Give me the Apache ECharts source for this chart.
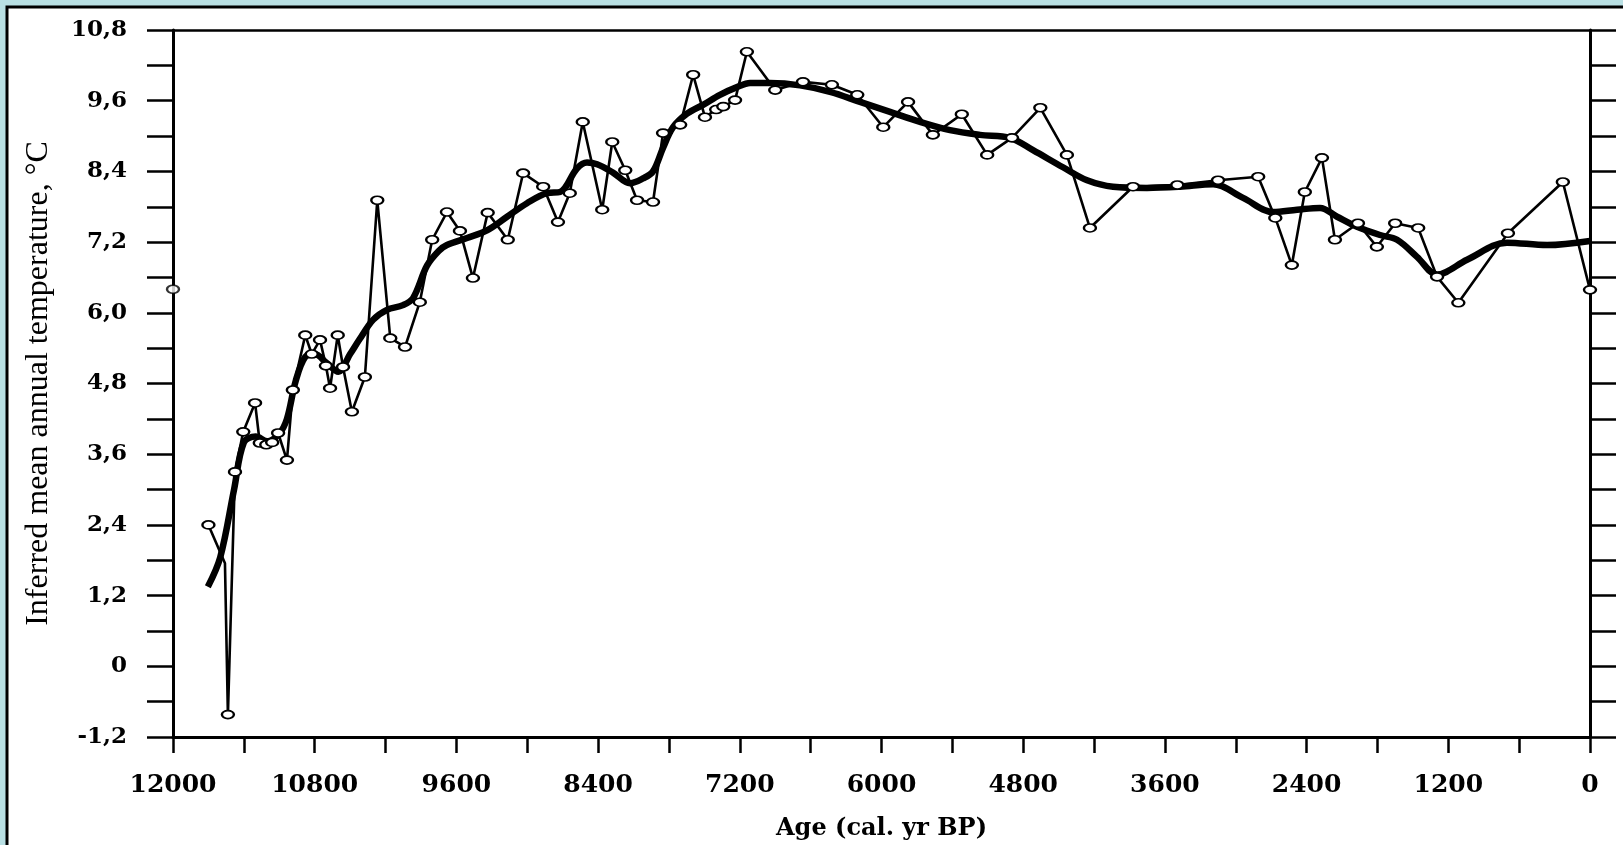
<!DOCTYPE html>
<html>
<head>
<meta charset="utf-8">
<script src="https://cdn.jsdelivr.net/npm/echarts@6/dist/echarts.min.js"></script>
<style>
  html, body { margin: 0; padding: 0; background: #b9e0e4; }
  #chart { width: 1623px; height: 845px; }
</style>
</head>
<body>
<div id="chart"></div>
<script>
// Sample ages (cal. yr BP) and inferred mean annual temperature (°C)
const sampleAges = [
  11700, 11560, 11535, 11475, 11405, 11305, 11265, 11210, 11160, 11110,
  11035, 10985, 10880, 10825, 10755, 10705, 10670, 10605, 10560, 10485,
  10375, 10270, 10160, 10035, 9910, 9805, 9680, 9570, 9460, 9335,
  9165, 9035, 8865, 8740, 8640, 8530, 8365, 8280, 8170, 8070,
  7935, 7850, 7705, 7595, 7495, 7400, 7340, 7240, 7140, 6900,
  6665, 6420, 6205, 5985, 5775, 5565, 5320, 5105, 4895, 4655,
  4430, 4235, 3870, 3495, 3150, 2810, 2665, 2525, 2415, 2270,
  2160, 1965, 1805, 1650, 1455, 1295, 1115, 695, 230, 0
];
const sampleTemps = [
  2.40, 1.75, -0.82, 3.30, 3.98, 4.47, 3.79, 3.76, 3.80, 3.96,
  3.50, 4.69, 5.62, 5.30, 5.54, 5.10, 4.72, 5.62, 5.08, 4.32,
  4.91, 7.91, 5.57, 5.42, 6.18, 7.24, 7.71, 7.39, 6.59, 7.70,
  7.24, 8.37, 8.14, 7.54, 8.03, 9.24, 7.75, 8.90, 8.42, 7.91,
  7.88, 9.05, 9.19, 10.04, 9.32, 9.45, 9.50, 9.61, 10.43, 9.78,
  9.92, 9.87, 9.70, 9.15, 9.58, 9.02, 9.37, 8.68, 8.97, 9.48,
  8.68, 7.44, 8.14, 8.17, 8.25, 8.31, 7.61, 6.81, 8.05, 8.63,
  7.24, 7.52, 7.12, 7.52, 7.44, 6.61, 6.17, 7.35, 8.22, 6.39
];
// Positions (indices into the sample arrays) drawn without a marker
const unmarkedSamples = [1];

// Smoothed temperature trend
const trendAges = [
  11705, 11600, 11483, 11400, 11300, 11200, 11100, 11035, 10960, 10880,
  10800, 10700, 10600, 10500, 10420, 10306, 10188, 10052, 9967, 9849,
  9750, 9680, 9510, 9341, 9171, 9002, 8833, 8722, 8579, 8494,
  8409, 8274, 8130, 8020, 7935, 7850, 7765, 7647, 7511, 7368,
  7224, 7113, 6944, 6690, 6436, 6182, 5928, 5674, 5420, 5166,
  4912, 4717, 4463, 4259, 4039, 3751, 3472, 3192, 2938, 2684,
  2481, 2286, 2142, 1973, 1778, 1634, 1465, 1295, 1041, 703,
  364, 0
];
const trendTemps = [
  1.35, 1.85, 3.00, 3.80, 3.90, 3.82, 3.95, 4.20, 4.85, 5.25,
  5.30, 5.15, 5.00, 5.30, 5.55, 5.88, 6.05, 6.13, 6.25, 6.80,
  7.05, 7.15, 7.27, 7.40, 7.63, 7.86, 8.03, 8.05, 8.45, 8.55,
  8.52, 8.38, 8.20, 8.28, 8.40, 8.80, 9.15, 9.38, 9.53, 9.70,
  9.83, 9.90, 9.90, 9.86, 9.75, 9.58, 9.41, 9.24, 9.10, 9.02,
  8.97, 8.76, 8.47, 8.25, 8.14, 8.12, 8.14, 8.18, 7.95, 7.71,
  7.75, 7.78, 7.63, 7.46, 7.32, 7.24, 6.95, 6.65, 6.90, 7.19,
  7.15, 7.22
];

// Modern value marked at the old end of the record
const modernAges = [12000];
const modernTemps = [6.4];

// Axis ticks and their labels
const ageTicks = [0, 1200, 2400, 3600, 4800, 6000, 7200, 8400, 9600, 10800, 12000];
const ageTickLabels = ['0', '1200', '2400', '3600', '4800', '6000', '7200', '8400', '9600', '10800', '12000'];
const tempTicks = [-1.2, 0, 1.2, 2.4, 3.6, 4.8, 6.0, 7.2, 8.4, 9.6, 10.8];
const tempTickLabels = ['-1,2', '0', '1,2', '2,4', '3,6', '4,8', '6,0', '7,2', '8,4', '9,6', '10,8'];

const zip = (xs, ys) => xs.map((x, i) => [x, ys[i]]);
const labelFor = (ticks, labels, v) => {
  let best = 0;
  ticks.forEach((t, i) => { if (Math.abs(t - v) < Math.abs(ticks[best] - v)) best = i; });
  return Math.abs(ticks[best] - v) < 1e-6 ? labels[best] : '';
};

const black = '#000';
const tickFont = { fontFamily: 'DejaVu Serif', fontWeight: 'bold', color: black };
const tickLine = { color: black, width: 2.5 };
const axisLine = { show: true, onZero: false, lineStyle: { color: black, width: 3 } };

const sampleData = zip(sampleAges, sampleTemps).map((p, i) =>
  unmarkedSamples.includes(i) ? { value: p, symbol: 'none' } : p);

const chart = echarts.init(document.getElementById('chart'), null, { renderer: 'canvas' });

chart.setOption({
  animation: false,
  backgroundColor: '#b9e0e4',
  graphic: [{
    type: 'rect',
    z: -10,
    silent: true,
    shape: { x: 7, y: 7, width: 1660, height: 880 },
    style: { fill: '#ffffff', stroke: black, lineWidth: 3 }
  }],
  grid: {
    left: 173, right: 33, top: 30, bottom: 108,
    containLabel: false,
    outerBoundsMode: 'none'
  },
  xAxis: [{
    type: 'value',
    position: 'bottom',
    inverse: true,
    min: 0, max: 12000, interval: 1200,
    name: 'Age (cal. yr BP)',
    nameLocation: 'middle',
    nameGap: 80,
    nameTextStyle: { fontFamily: 'DejaVu Serif', fontWeight: 'bold', fontSize: 24, color: black },
    axisLine: axisLine,
    axisTick: { show: true, inside: false, length: 16, lineStyle: tickLine },
    minorTick: { show: true, splitNumber: 2, length: 16, lineStyle: tickLine },
    axisLabel: {
      ...tickFont, fontSize: 25, margin: 36,
      formatter: v => labelFor(ageTicks, ageTickLabels, v)
    },
    splitLine: { show: false },
    minorSplitLine: { show: false }
  }, {
    type: 'value',
    position: 'top',
    inverse: true,
    min: 0, max: 12000, interval: 1200,
    axisLine: { show: true, onZero: false, lineStyle: { color: black, width: 2.5 } },
    axisTick: { show: false },
    axisLabel: { show: false },
    splitLine: { show: false }
  }],
  yAxis: [{
    type: 'value',
    position: 'left',
    min: -1.2, max: 10.8, interval: 1.2,
    name: 'Inferred mean annual temperature, °C',
    nameLocation: 'middle',
    nameGap: 118,
    nameRotate: 90,
    nameTextStyle: { fontFamily: 'Liberation Serif', fontSize: 32, color: black },
    axisLine: axisLine,
    axisTick: { show: true, inside: false, length: 26, lineStyle: tickLine },
    minorTick: { show: true, splitNumber: 2, length: 26, lineStyle: tickLine },
    axisLabel: {
      ...tickFont, fontSize: 23, margin: 46,
      formatter: v => labelFor(tempTicks, tempTickLabels, v)
    },
    splitLine: { show: false },
    minorSplitLine: { show: false }
  }, {
    type: 'value',
    position: 'right',
    min: -1.2, max: 10.8, interval: 1.2,
    axisLine: axisLine,
    axisTick: { show: true, inside: false, length: 26, lineStyle: tickLine },
    minorTick: { show: true, splitNumber: 2, length: 26, lineStyle: tickLine },
    axisLabel: { show: false },
    splitLine: { show: false },
    minorSplitLine: { show: false }
  }],
  series: [{
    name: 'Trend',
    type: 'line',
    xAxisIndex: 0, yAxisIndex: 0,
    data: zip(trendAges, trendTemps),
    smooth: 0.35,
    showSymbol: false,
    clip: false,
    lineStyle: { color: black, width: 6.5 },
    z: 2
  }, {
    name: 'Samples',
    type: 'line',
    xAxisIndex: 0, yAxisIndex: 0,
    data: sampleData,
    symbol: 'emptyCircle',
    symbolSize: [12, 8],
    showAllSymbol: true,
    clip: false,
    lineStyle: { color: black, width: 2.6 },
    itemStyle: { color: black, borderColor: black, borderWidth: 2.5 },
    z: 3
  }, {
    name: 'Modern',
    type: 'scatter',
    xAxisIndex: 0, yAxisIndex: 0,
    data: zip(modernAges, modernTemps),
    symbol: 'emptyCircle',
    symbolSize: [12, 8],
    clip: false,
    itemStyle: { color: black, borderColor: black, borderWidth: 2.5 },
    z: 1
  }]
});
</script>
</body>
</html>
